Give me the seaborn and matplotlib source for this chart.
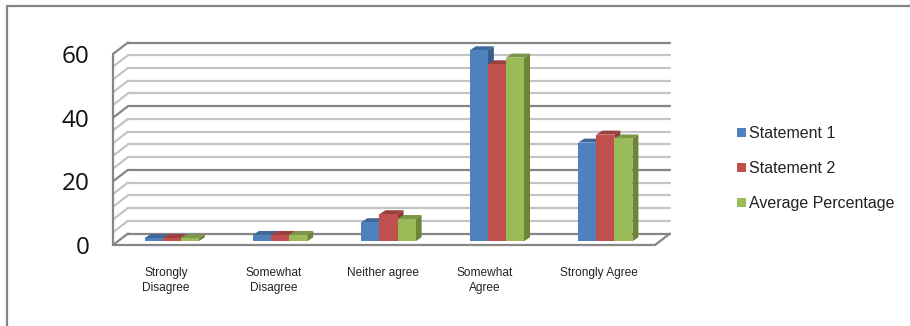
import matplotlib
matplotlib.use("Agg")
import matplotlib.pyplot as plt
import pandas as pd
import seaborn as sns
from matplotlib.lines import Line2D
from matplotlib.patches import Patch, Polygon
from matplotlib.transforms import Affine2D, IdentityTransform

categories = ["Strongly\nDisagree", "Somewhat\nDisagree", "Neither agree", "Somewhat\nAgree", "Strongly Agree"]
statement_1 = [1, 2, 6, 60, 31]
statement_2 = [1, 2, 8.5, 55.6, 33.5]
average_pct = [1, 2, 7, 57.7, 32.3]
series_names = ["Statement 1", "Statement 2", "Average Percentage"]
front_colors = ["#4F81BD", "#C0504D", "#9BBB59"]
side_colors = ["#385D8A", "#8C3836", "#6B8539"]
top_colors = ["#3F6797", "#9A403E", "#7C9647"]
major_ticks = [0, 20, 40, 60]
minor_ticks = [4, 8, 12, 16, 24, 28, 32, 36, 44, 48, 52, 56]

GRID_DARK = "#868686"
GRID_LIGHT = "#C4C4C4"

# Pseudo-3D depth, in pixels: wall offset and bar placement within the floor.
WALL_DX, WALL_DY = 15, 11.5
BAR_DX, BAR_DY = 4.5, 3.7
SIDE_DX, SIDE_DY = 6, 4

sns.set_theme(style="white")
plt.rcParams["font.family"] = ["Liberation Sans", "DejaVu Sans"]

W, H = 910, 326
fig = plt.figure(figsize=(W / 100, H / 100), dpi=100, facecolor="white")
ax = fig.add_axes([113 / W, 1 - 245 / H, (655 - 113) / W, (245 - 54) / H])
ax.patch.set_alpha(0)

frame = pd.DataFrame({
    "category": categories * 3,
    "series": [s for s in series_names for _ in categories],
    "value": statement_1 + statement_2 + average_pct,
})
sns.barplot(data=frame, x="category", y="value", hue="series", hue_order=series_names,
            palette=front_colors, saturation=1, width=0.5, gap=0, dodge=True,
            legend=False, errorbar=None, ax=ax, zorder=5, linewidth=0, edgecolor="none")
ax.set_xlim(-0.5, 4.5)
ax.set_ylim(0, 60)
ax.set_xlabel("")
ax.set_ylabel("")
sns.despine(ax=ax, left=True, bottom=True)

to_px = ax.transData.transform


def wall_line(level, color, width):
    (x0, y0), (x1, y1) = to_px([(-0.5, level), (4.5, level)])
    ax.add_line(Line2D([x0 + WALL_DX, x1 + WALL_DX], [y0 + WALL_DY, y1 + WALL_DY], color=color, lw=width,
                       transform=IdentityTransform(), clip_on=False, zorder=2))
    ax.add_line(Line2D([x0, x0 + WALL_DX], [y0, y0 + WALL_DY], color=color, lw=width,
                       transform=IdentityTransform(), clip_on=False, zorder=2))


for level in minor_ticks:
    wall_line(level, GRID_LIGHT, 1.6)
for level in major_ticks:
    wall_line(level, GRID_DARK, 1.6)

# Front floor edge, right floor edge and the left axis line.
(fx0, fy0), (fx1, fy1) = to_px([(-0.5, 0), (4.5, 0)])
(_, ty) = to_px((-0.5, 60))
for xs, ys in [([fx0, fx1], [fy0, fy1]),
               ([fx1, fx1 + WALL_DX], [fy1, fy1 + WALL_DY]),
               ([fx0, fx0], [fy0, ty])]:
    ax.add_line(Line2D(xs, ys, color=GRID_DARK, lw=1.6, transform=IdentityTransform(),
                       clip_on=False, zorder=3))

# Shift the bars back from the floor edge and add their top and side faces.
n = len(categories)
shift = Affine2D().translate(BAR_DX, BAR_DY)
for s, bar in enumerate(ax.patches[:3 * n]):
    series = s // n
    (x0, y0), (x1, y1) = to_px([(bar.get_x(), 0), (bar.get_x() + bar.get_width(), bar.get_height())])
    x0, x1, y0, y1 = x0 + BAR_DX, x1 + BAR_DX, y0 + BAR_DY, y1 + BAR_DY
    order = 5 + (s % n) * 0.01 + series * 0.1
    bar.set_transform(ax.transData + shift)
    bar.set_clip_on(False)
    bar.set_zorder(order + 0.02)
    ax.add_patch(Polygon([(x1, y0), (x1 + SIDE_DX, y0 + SIDE_DY), (x1 + SIDE_DX, y1 + SIDE_DY), (x1, y1)],
                         closed=True, fc=side_colors[series], ec="none", transform=IdentityTransform(),
                         clip_on=False, zorder=order))
    ax.add_patch(Polygon([(x0, y1), (x1, y1), (x1 + SIDE_DX, y1 + SIDE_DY), (x0 + SIDE_DX, y1 + SIDE_DY)],
                         closed=True, fc=top_colors[series], ec="none", transform=IdentityTransform(),
                         clip_on=False, zorder=order))

ax.set_yticks(major_ticks)
ax.set_yticklabels([str(v) for v in major_ticks], fontfamily="Open Sans", fontsize=17.5, color="#111111")
ax.tick_params(axis="y", length=5.8, width=1.2, color=GRID_DARK, pad=11)
ax.tick_params(axis="x", length=0, pad=15.5)

# Horizontal nudges for the category labels, in pixels.
label_nudges = [-1, -1.5, -1, -8, -2]
for label, nudge in zip(ax.get_xticklabels(), label_nudges):
    label.set_fontsize(8.6)
    label.set_color("#222222")
    label.set_linespacing(1.35)
    label.set_verticalalignment("top")
    label.set_transform(label.get_transform() + Affine2D().translate(nudge, 0))

handles = [Patch(facecolor=c, edgecolor="none", label=s) for c, s in zip(front_colors, series_names)]
fig.legend(handles=handles, loc="center left", bbox_to_anchor=(724.5 / W, 1 - 168.5 / H), frameon=False,
           fontsize=11.5, labelcolor="#222222", handlelength=0.55, handleheight=0.55,
           handletextpad=0.2, labelspacing=1.25, borderpad=0.3)

# Outer chart border: top and left edges only.
for xs, ys in [([7, 910], [6, 6]), ([7, 7], [6, 326])]:
    fig.add_artist(Line2D([x / W for x in xs], [1 - y / H for y in ys], color=GRID_DARK, lw=1.6,
                          transform=fig.transFigure))

fig.savefig("out.png", dpi=100)
